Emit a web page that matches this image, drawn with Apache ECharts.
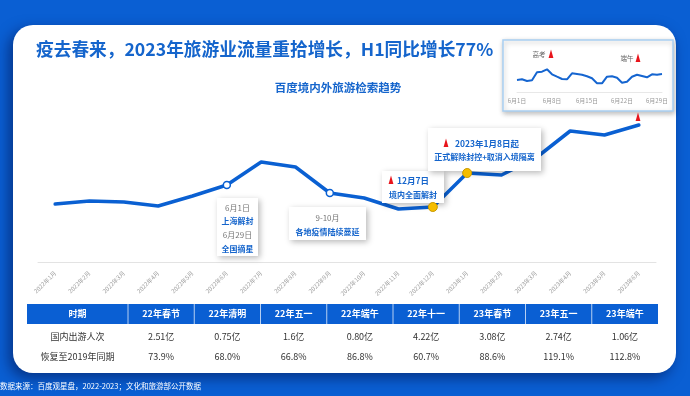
<!DOCTYPE html>
<html><head><meta charset="utf-8">
<script src="https://cdn.jsdelivr.net/npm/echarts@6/dist/echarts.min.js"></script>
<style>html,body{margin:0;padding:0;background:#0a5fd3}#c{width:690px;height:396px}</style>
</head><body><div id="c"></div>
<script>
const months = ['2022年1月','2022年2月','2022年3月','2022年4月','2022年5月','2022年6月','2022年7月','2022年8月','2022年9月','2022年10月','2022年11月','2022年12月','2023年1月','2023年2月','2023年3月','2023年4月','2023年5月','2023年6月'];
const searchIndex = [58,61,60,56,66,77,100,95,69,64,53,55,89,87,104,131,127,137];
const hollowIdx = [5,8];
const yellowIdx = [11,12];
const juneDays = ['6月1日','6月2日','6月3日','6月4日','6月5日','6月6日','6月7日','6月8日','6月9日','6月10日','6月11日','6月12日','6月13日','6月14日','6月15日','6月16日','6月17日','6月18日','6月19日','6月20日','6月21日','6月22日','6月23日','6月24日','6月25日','6月26日','6月27日','6月28日','6月29日','6月30日'];
const juneIndex = [12,12.7,11,11.7,19.7,20.3,22.7,17.7,15.3,13,12.7,18.7,18,17.3,15.7,13.7,8.7,8.7,15.3,15.7,14.3,9.3,10.3,15.3,17.3,16,14.7,17.7,17.3,18];
const tableHeader = ['时期','22年春节','22年清明','22年五一','22年端午','22年十一','23年春节','23年五一','23年端午'];
const tripsRow = ['国内出游人次','2.51亿','0.75亿','1.6亿','0.80亿','4.22亿','3.08亿','2.74亿','1.06亿'];
const recoveryRow = ['恢复至2019年同期','73.9%','68.0%','66.8%','86.8%','60.7%','88.6%','119.1%','112.8%'];
const titleText = '疫去春来，2023年旅游业流量重拾增长，H1同比增长77%';
const subtitleText = '百度境内外旅游检索趋势';
const sourceText = '数据来源：百度观星盘，2022-2023；文化和旅游部公开数据';

const F = '"Noto Sans CJK SC"';
const BLUE = '#0a5fd3';
const TBLUE = '#1565cc';
const g = [];
function txt(x,y,t,size,color,bold,align,z){
  g.push({type:'text',x:x,y:y,z:z||6,style:{text:t,fill:color,font:(bold?'bold ':'')+size+'px '+F,align:align||'center',verticalAlign:'middle'}});
}
function tri(x,y,z){
  g.push({type:'polygon',z:z||6,shape:{points:[[x,y-4.5],[x-2.4,y+4],[x+2.4,y+4]]},style:{fill:'#e8141b'}});
}
function box(x,y,w,h,z){
  g.push({type:'rect',z:z||5,shape:{x:x,y:y,width:w,height:h},style:{fill:'#fff',shadowBlur:6,shadowColor:'rgba(0,0,0,0.28)',shadowOffsetX:2,shadowOffsetY:2}});
}
// card
g.push({type:'rect',z:-2,shape:{x:13,y:25,width:663,height:348,r:20},style:{fill:'#fff',shadowBlur:14,shadowColor:'rgba(0,15,70,0.55)',shadowOffsetX:-4,shadowOffsetY:5}});
txt(36,49,titleText,17.7,TBLUE,true,'left',1);
txt(338,88,subtitleText,11.5,TBLUE,true,'center',1);
// inset box
g.push({type:'rect',z:-1,shape:{x:503,y:40,width:170,height:71},style:{fill:'#fff',stroke:'#a9d0f2',lineWidth:1.5,shadowBlur:5,shadowColor:'rgba(0,0,0,0.25)',shadowOffsetX:1,shadowOffsetY:2}});
txt(539,55,'高考',6.5,'#666',false,'center',3);
tri(551,54,3);
txt(627,59,'端午',6.5,'#666',false,'center',3);
tri(638,58,3);
// annotation boxes
box(217,198,41,58);
txt(237.5,207.5,'6月1日',8,'#777',false);
txt(237.5,221,'上海解封',8,TBLUE,true);
txt(237.5,235,'6月29日',8,'#777',false);
txt(237.5,249,'全国摘星',8,TBLUE,true);
box(289,207,77,33);
txt(327.5,217.5,'9-10月',8,'#777',false);
txt(327.5,231.5,'各地疫情陆续蔓延',8,TBLUE,true);
box(382,171,62,32);
tri(391,180);
txt(397,181,'12月7日',8.5,TBLUE,true,'left');
txt(413,195,'境内全面解封',8,TBLUE,true);
box(428,128,113,43);
tri(446,143);
txt(455,143.5,'2023年1月8日起',8.5,TBLUE,true,'left');
txt(484.5,157,'正式解除封控+取消入境隔离',8,TBLUE,true);
tri(638,117,3);
// table
const tX0 = 27, tX1 = 128, colW = 66.25;
g.push({type:'rect',z:1,shape:{x:tX0,y:304,width:631,height:20},style:{fill:BLUE}});
for(let i=0;i<8;i++){
  const bx = tX1 + i*colW;
  g.push({type:'line',z:2,shape:{x1:bx,y1:304,x2:bx,y2:324},style:{stroke:'rgba(255,255,255,0.7)',lineWidth:1}});
}
function colCenter(i){ return i===0 ? (tX0+tX1)/2 : tX1 + (i-0.5)*colW; }
tableHeader.forEach((t,i)=>txt(colCenter(i),314,t,9,'#fff',true,'center',3));
tripsRow.forEach((t,i)=>txt(colCenter(i),337,t,9,'#333',false,'center',3));
recoveryRow.forEach((t,i)=>txt(colCenter(i),357,t,9,'#333',false,'center',3));
txt(0,386,sourceText,7.5,'#fff',false,'left',3);

const chart = echarts.init(document.getElementById('c'));
chart.setOption({
  backgroundColor: BLUE,
  animation:false,
  graphic: g,
  grid:[
    {left:38,right:34,top:100,bottom:134},
    {left:517,right:28,top:60,bottom:304}
  ],
  xAxis:[
    {type:'category',gridIndex:0,data:months,boundaryGap:true,z:1,
     axisLine:{lineStyle:{color:'#e3e3e3'}},axisTick:{show:false},
     axisLabel:{rotate:45,interval:0,fontSize:6,color:'#a0a0a0',margin:10,fontFamily:'Noto Sans CJK SC'}},
    {type:'category',gridIndex:1,data:juneDays,boundaryGap:false,z:1,
     axisLine:{lineStyle:{color:'#e8e8e8'}},axisTick:{show:false},
     axisLabel:{interval:6,fontSize:6,color:'#999',margin:6,fontFamily:'Noto Sans CJK SC'}}
  ],
  yAxis:[
    {type:'value',gridIndex:0,min:0,max:162,show:false,splitLine:{show:false}},
    {type:'value',gridIndex:1,min:0,max:32,show:false,splitLine:{show:false}}
  ],
  series:[
    {type:'line',xAxisIndex:0,yAxisIndex:0,z:2,data:searchIndex,symbol:'none',
     lineStyle:{color:'#0a60d2',width:3.5,cap:'round',join:'round'}},
    {type:'scatter',xAxisIndex:0,yAxisIndex:0,z:10,symbolSize:7,
     data:hollowIdx.map(i=>[i,searchIndex[i]]),
     itemStyle:{color:'#fff',borderColor:'#0a60d2',borderWidth:1.5,opacity:1}},
    {type:'scatter',xAxisIndex:0,yAxisIndex:0,z:10,symbolSize:9,
     data:yellowIdx.map(i=>[i,searchIndex[i]]),
     itemStyle:{color:'#f5bd00',borderColor:'#c99a00',borderWidth:1,opacity:1}},
    {type:'line',xAxisIndex:1,yAxisIndex:1,z:3,data:juneIndex,symbol:'none',
     lineStyle:{color:'#1565d0',width:2}}
  ]
});
</script></body></html>
